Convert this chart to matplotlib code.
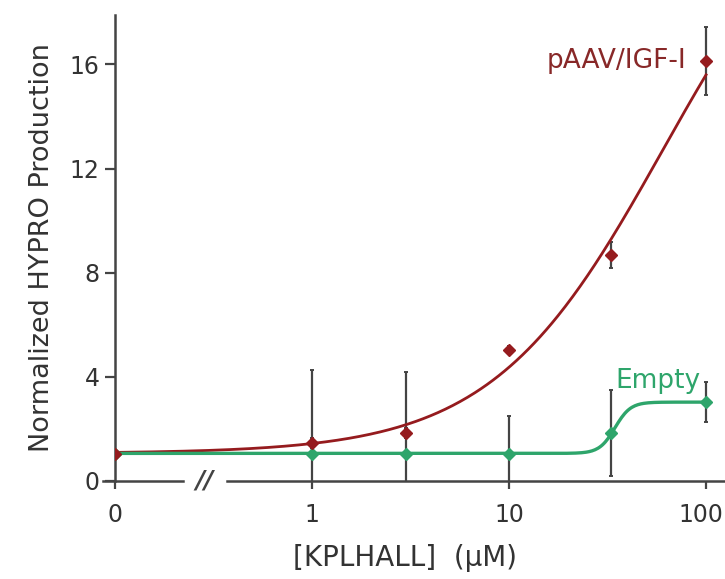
import numpy as np
import matplotlib.pyplot as plt
from matplotlib.transforms import blended_transform_factory, ScaledTranslation

plt.rcParams['font.family'] = ['DejaVu Sans']

# concentrations (uM); 0 is drawn at 0.1 on the log axis (axis break)
conc = [0, 1, 3, 10, 33, 100]
zero_pos = 0.1

igf_y = [1.05, 1.45, 1.85, 5.03, 8.67, 16.13]
igf_err = [0, 0.2, 0.2, 0.15, 0.5, 1.3]
empty_y = [1.05, 1.05, 1.05, 1.05, 1.84, 3.03]
empty_err = [0, 3.2, 3.15, 1.45, 1.65, 0.77]

# fitted dose-response curves (bottom, top, ec50, hill slope)
igf_fit = (1.06, 24.4, 60.5, 1.0)
empty_fit = (1.06, 3.03, 34.5, 11.0)

xtick_vals = [0, 1, 10, 100]

red = '#951b1e'
green = '#2ea56b'
axc = '#444444'
txt = '#333333'


def hill(x, p):
    b, t, ec, h = p
    return b + (t - b) / (1 + (ec / x) ** h)


def pos(v):
    return np.where(np.asarray(v, float) == 0, zero_pos, v)


fig = plt.figure(figsize=(7.25, 5.79), dpi=100)
ax = fig.add_axes([115 / 725, 98 / 579, 610 / 725, 466 / 579])
ax.set_xscale('log')
ax.set_xlim(zero_pos, 124.8)
ax.set_ylim(0, 17.9)

xs = np.logspace(np.log10(zero_pos), 2, 400)
ax.plot(xs, hill(xs, igf_fit), color=red, lw=2.0, zorder=3)
ax.plot(xs, hill(xs, empty_fit), color=green, lw=2.4, zorder=3)

x = pos(conc)
ax.errorbar(x, empty_y, yerr=empty_err, fmt='none', ecolor=axc, elinewidth=1.6,
            capsize=1.5, capthick=1.4, zorder=2)
ax.errorbar(x, igf_y, yerr=igf_err, fmt='none', ecolor=axc, elinewidth=1.6,
            capsize=1.5, capthick=1.4, zorder=2)
ax.plot(x, empty_y, 'D', color=green, ms=6.5, zorder=4)
ax.plot(x, igf_y, 'D', color=red, ms=6.5, zorder=5)

ax.annotate('pAAV/IGF-I', (100, igf_y[-1]), xytext=(-14, 0), textcoords='offset points',
            ha='right', va='center', fontsize=19, color='#882828')
ax.annotate('Empty', (100, empty_y[-1]), xytext=(-4, 6), textcoords='offset points',
            ha='right', va='bottom', fontsize=19, color=green)

# axes
for s in ['top', 'right', 'bottom']:
    ax.spines[s].set_visible(False)
ax.spines['left'].set_color(axc)
ax.spines['left'].set_linewidth(1.8)

tr = blended_transform_factory(ax.transData, ax.transAxes)
ax.plot([0.087, 0.221], [0, 0], color=axc, lw=1.8, transform=tr, clip_on=False)
ax.plot([0.371, 124.8], [0, 0], color=axc, lw=1.8, transform=tr, clip_on=False)
ax.text(0.285, 0, '//', transform=tr, ha='center', va='center', fontsize=18,
        style='italic', fontweight='bold', color=axc)

ax.set_xticks(pos(xtick_vals))
ax.set_xticklabels([str(v) for v in xtick_vals])
ax.xaxis.set_minor_locator(plt.NullLocator())
ax.set_yticks([0, 4, 8, 12, 16])
ax.tick_params(axis='x', direction='out', length=6, width=1.6, color=axc,
               labelsize=17, labelcolor=txt, pad=10)
ax.tick_params(axis='y', direction='out', length=7, width=1.6, color=axc,
               labelsize=17, labelcolor=txt, pad=4)

# keep the last tick label inside the figure
lab = ax.get_xticklabels()[-1]
lab.set_transform(lab.get_transform() + ScaledTranslation(-5 / 100, 0, fig.dpi_scale_trans))

ax.set_ylabel('Normalized HYPRO Production', fontsize=19.5, color=txt)
ax.yaxis.set_label_coords(-0.098, 0.5)
ax.set_xlabel('[KPLHALL]  (\u00b5M)', fontsize=20, color=txt)
ax.xaxis.set_label_coords(0.475, -0.135)

fig.savefig('out.png', dpi=100)
